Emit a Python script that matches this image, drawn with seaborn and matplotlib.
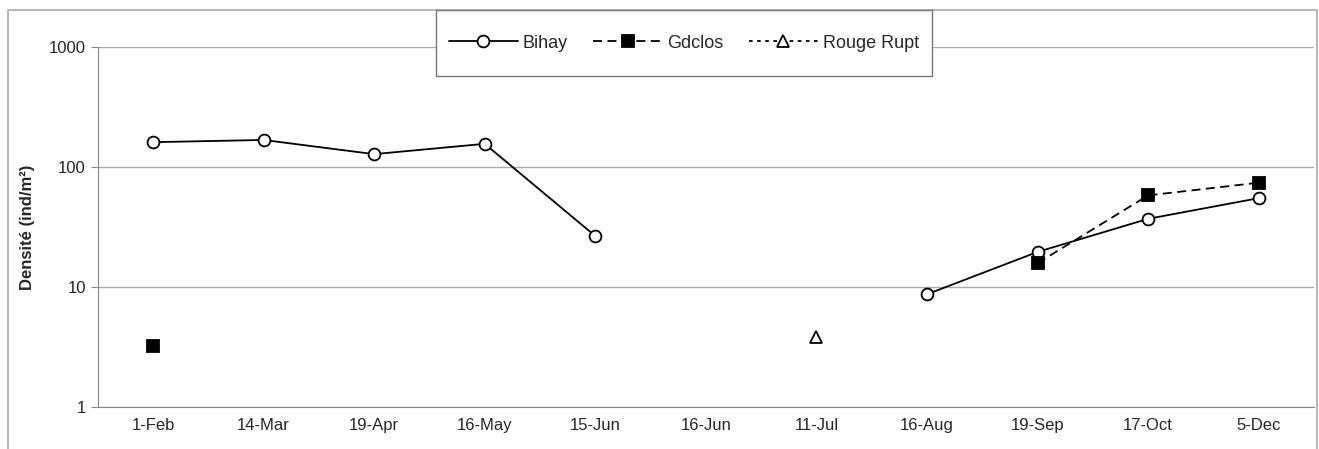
import numpy as np
import pandas as pd
import matplotlib
matplotlib.use("Agg")
import matplotlib.pyplot as plt
from matplotlib.patches import Rectangle
import seaborn as sns

# donnees
dates = ["1-Feb", "14-Mar", "19-Apr", "16-May", "15-Jun", "16-Jun",
         "11-Jul", "16-Aug", "19-Sep", "17-Oct", "5-Dec"]
bihay = [161, 168, 128, 156, 26.6, np.nan, np.nan, 8.7, 19.6, 37, 55]
gdclos = [3.2, np.nan, np.nan, np.nan, np.nan, np.nan, np.nan, np.nan, 15.8, 58, 74]
rouge_rupt = [np.nan, np.nan, np.nan, np.nan, np.nan, np.nan, 3.8, np.nan, np.nan, np.nan, np.nan]

sns.set_style("white")
plt.rcParams["font.family"] = ["Liberation Sans", "DejaVu Sans"]

df = pd.DataFrame({"pos": np.arange(len(dates)), "Bihay": bihay,
                   "Gdclos": gdclos, "Rouge Rupt": rouge_rupt})

fig = plt.figure(figsize=(13.19, 4.49), dpi=100)
ax = fig.add_axes([97.7 / 1319, 1 - 407 / 449, (1314 - 97.7) / 1319, 360 / 449])

styles = {
    "Bihay": dict(linestyle="-", marker="o", markerfacecolor="white", markersize=8.5),
    "Gdclos": dict(linestyle=(0, (5, 3)), marker="s", markerfacecolor="black", markersize=8),
    "Rouge Rupt": dict(linestyle=(0, (2, 2.5)), marker="^", markerfacecolor="white", markersize=9),
}

for name, st in styles.items():
    # les NaN coupent la ligne comme dans Excel
    ax.plot(df["pos"], df[name], color="black", linewidth=1.3, markeredgecolor="black",
            markeredgewidth=1.3, label=name, **st)

ax.set_yscale("log")
ax.set_ylim(1, 1000)
ax.set_xlim(-0.5, len(dates) - 0.5)
ax.set_xticks(np.arange(len(dates)))
ax.set_xticklabels(dates, fontsize=12)
ax.set_xticks(np.arange(len(dates) + 1) - 0.5, minor=True)
ax.tick_params(axis="x", which="major", length=0, pad=8)
ax.tick_params(axis="x", which="minor", length=4, direction="in", color="#888888")
ax.set_yticks([1, 10, 100, 1000])
ax.set_yticklabels(["1", "10", "100", "1000"], fontsize=12)
ax.yaxis.set_minor_locator(matplotlib.ticker.NullLocator())
ax.tick_params(axis="y", which="major", length=5, direction="out", color="#888888", left=True)
ax.grid(axis="y", color="#aaaaaa", linewidth=1)
ax.set_ylabel("Densité (ind/m²)", fontsize=12, fontweight="bold", labelpad=10)

for side in ["top", "right"]:
    ax.spines[side].set_visible(False)
for side in ["left", "bottom"]:
    ax.spines[side].set_color("#888888")

# cadre exterieur du graphique
fig.patches.append(Rectangle((8 / 1319, -0.1), 1309 / 1319, 1.1 - 10 / 449,
                             transform=fig.transFigure, fill=False,
                             edgecolor="#aaaaaa", linewidth=1.2))

# cadre de la legende
fig.patches.append(Rectangle((436 / 1319, 1 - 76 / 449), 496 / 1319, 66 / 449,
                             transform=fig.transFigure, facecolor="white",
                             edgecolor="#777777", linewidth=1.0, zorder=2))

leg = fig.legend(loc="center", bbox_to_anchor=(684 / 1319, 1 - 43 / 449),
                 ncol=3, fontsize=13, handlelength=3.8, numpoints=1,
                 frameon=False, columnspacing=1.4, handletextpad=0.3)
leg.set_zorder(3)

fig.savefig("out.png", dpi=100)
